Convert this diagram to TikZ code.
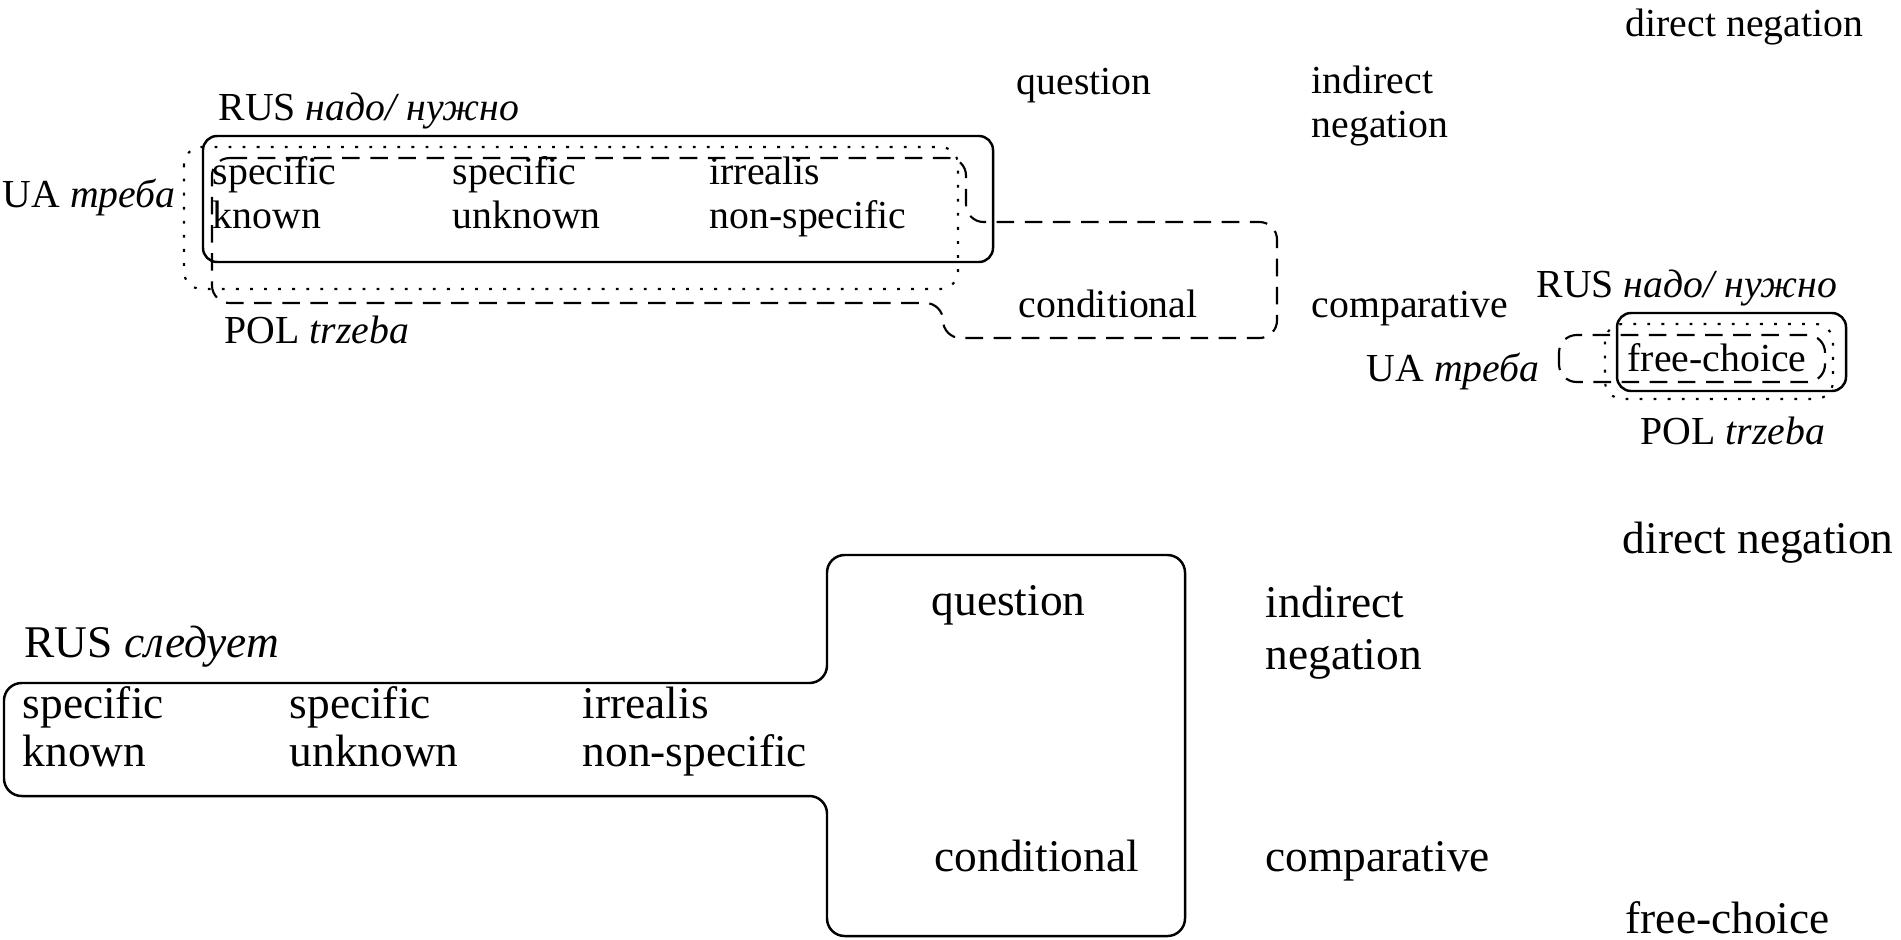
\documentclass[tikz,border=0pt]{standalone}
\usepackage{fontspec}
\setmainfont{Liberation Serif}
\usetikzlibrary{positioning}

\begin{document}
\begin{tikzpicture}[x=0.01cm, y=-0.01cm,
                    every node/.style={anchor=mid west, inner sep=0pt, align=left,
                                       font=\fontsize{11.3}{12.5}\selectfont},
                    big/.style={font=\fontsize{12.9}{13.6}\selectfont},
                    solid box/.style={line width=0.7pt, rounded corners=4pt},
                    dotted box/.style={line width=0.6pt, dash pattern=on 0.8pt off 3.2pt, rounded corners=5pt},
                    dashed box/.style={line width=0.6pt, dash pattern=on 5pt off 3pt, rounded corners=5pt}]
   %\draw[help lines] (0,0) grid (1901,939);
   \useasboundingbox (0,0) rectangle (1901,939);

   % upper map: RUS nado/nuzhno, UA treba, POL trzeba
   \node (dirneg_a) at (1625, 28) {direct negation};
   \node (quest_a) at (1016, 86) {question};
   \node (indneg_a) at (1311, 129) {indirect\\negation};
   \node (rus_a) at (218, 112) {RUS \textit{надо/ нужно}};
   \node (ua_a) at (2, 199) {UA \textit{треба}};
   \node (spk_a) at (212, 220) {specific\\known};
   \node (spu_a) at (452, 220) {specific\\unknown};
   \node (irr_a) at (709, 220) {irrealis\\non-specific};
   \node (cond_a) at (1018, 309) {conditional};
   \node (comp_a) at (1311, 309) {comparative};
   \node (pol_a) at (224, 335) {POL \textit{trzeba}};

   \node (rus_b) at (1536, 289) {RUS \textit{надо/ нужно}};
   \node (fc_a) at (1627, 363) {free-choice};
   \node (ua_b) at (1366, 373) {UA \textit{треба}};
   \node (pol_b) at (1640, 436) {POL \textit{trzeba}};

   \draw[solid box] (203,136) rectangle (993,262);
   \draw[dotted box] (184,147) rectangle (958,289);
   \draw[dashed box] (212,158) -- (966,158) -- (966,222) -- (1277,222) -- (1277,338)
                   -- (943,338) -- (943,303) -- (212,303) -- cycle;

   \draw[solid box] (1617,313) rectangle (1846,391);
   \draw[dashed box] (1559,335) rectangle (1825,382);
   \draw[dotted box] (1605,324) rectangle (1833,399);

   % lower map: RUS sleduet
   \node[big] (dirneg_c) at (1622, 545) {direct negation};
   \node[big] (quest_c) at (931, 607) {question};
   \node[big, font=\fontsize{12.9}{14.8}\selectfont] (indneg_c) at (1265, 661) {indirect\\negation};
   \node[big] (rus_c) at (24, 649) {RUS \textit{следует}};
   \node[big] (spk_c) at (22, 758) {specific\\known};
   \node[big] (spu_c) at (289, 758) {specific\\unknown};
   \node[big] (irr_c) at (582, 758) {irrealis\\non-specific};
   \node[big] (cond_c) at (934, 863) {conditional};
   \node[big] (comp_c) at (1265, 863) {comparative};
   \node[big] (fc_c) at (1625, 925) {free-choice};

   \draw[solid box, rounded corners=5pt] (4,683) -- (827,683) -- (827,555) -- (1185,555) -- (1185,936)
        -- (827,936) -- (827,796) -- (4,796) -- cycle;

\end{tikzpicture}
\end{document}
